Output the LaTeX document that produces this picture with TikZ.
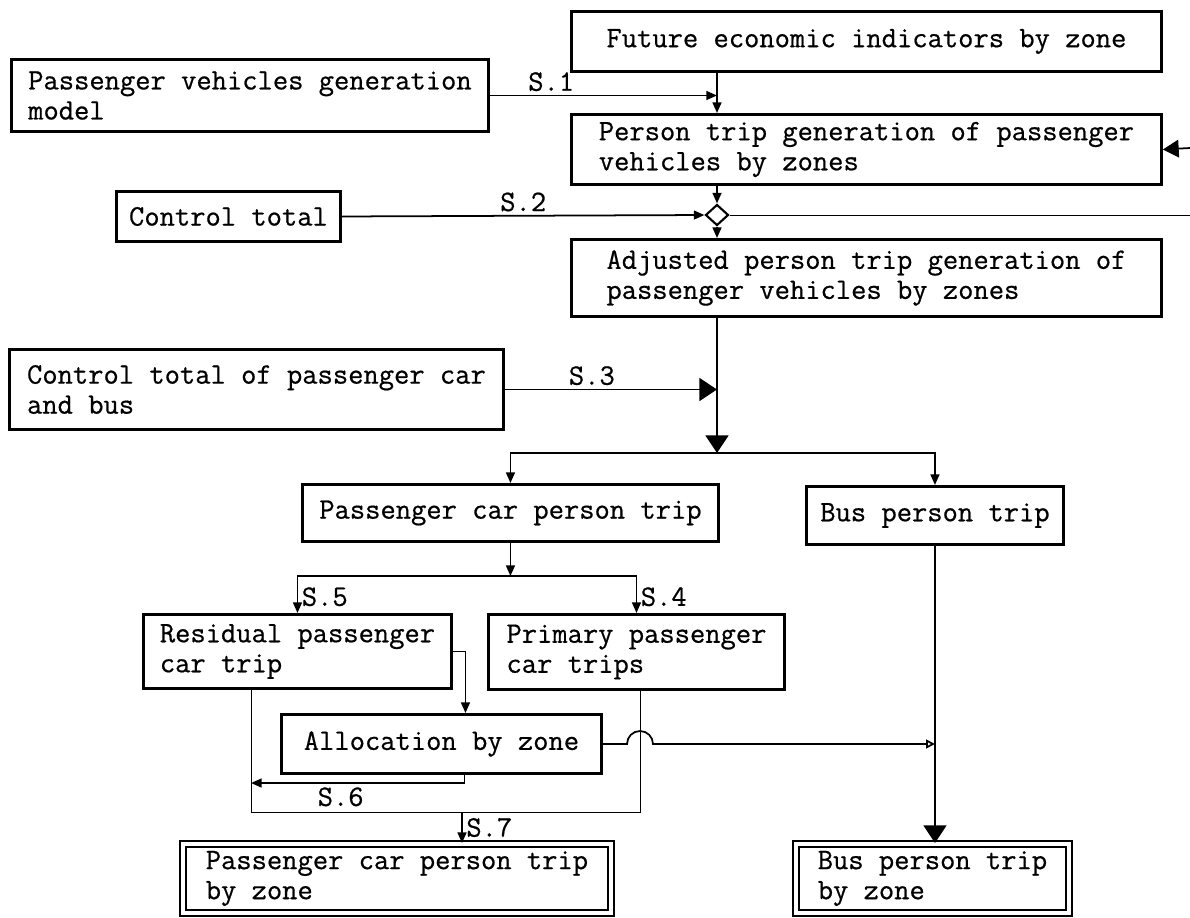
\documentclass[tikz,border=0pt]{standalone}
\usepackage{fontspec}
\newfontfamily\typew[FakeBold=0.6]{Latin Modern Mono}
\usepackage{tikz}
\usetikzlibrary{arrows.meta,shapes.geometric}

\begin{document}
\begin{tikzpicture}[x=0.02cm,y=-0.02cm,
	box/.style={draw, line width=1.7pt, align=left, anchor=north west, inner sep=0pt,
		font=\typew\fontsize{16.9}{17.1}\selectfont},
	dbl/.style={double, double distance=2.2pt, line width=1.1pt},
	lbl/.style={font=\typew\fontsize{16.9}{17.1}\selectfont, inner sep=2pt},
	sarr/.style={-{Triangle[length=6pt,width=5pt]}, line width=1pt},
	marr/.style={-{Triangle[length=9pt,width=10pt]}, line width=1pt},
	barr/.style={-{Triangle[length=10pt,width=13pt]}, line width=1pt},
	oarr/.style={-{Triangle[open,length=5pt,width=5pt]}, line width=1pt}]
	\useasboundingbox (0,0) rectangle (1190,917);
	% blocks
	\node[box, minimum width=11.8cm, minimum height=1.2cm] (fut) at (570,10) {Future economic indicators by zone};
	\node[box, minimum width=9.54cm, minimum height=1.44cm] (pvgm) at (10,58) {Passenger vehicles generation\\model};
	\node[box, minimum width=11.8cm, minimum height=1.4cm] (ptg) at (570,113) {Person trip generation of passenger\\vehicles by zones};
	\node[box, minimum width=4.48cm, minimum height=1cm] (ctl) at (115,190) {Control total};
	\node[draw, diamond, line width=1.2pt, fill=white, minimum width=0.46cm, minimum height=0.42cm, inner sep=0pt] (dia) at (717,215) {};
	\node[box, minimum width=11.8cm, minimum height=1.54cm] (adj) at (570,238) {Adjusted person trip generation of\\passenger vehicles by zones};
	\node[box, minimum width=9.88cm, minimum height=1.6cm] (ctpcb) at (8,348) {Control total of passenger car\\and bus};
	\node[box, minimum width=8.32cm, minimum height=1.14cm] (pcpt) at (301,483) {Passenger car person trip};
	\node[box, minimum width=5.14cm, minimum height=1.16cm] (bpt) at (805,485) {Bus person trip};
	\node[box, minimum width=6.16cm, minimum height=1.48cm] (res) at (142,613) {Residual passenger\\car trip};
	\node[box, minimum width=5.92cm, minimum height=1.5cm] (prim) at (487,613) {Primary passenger\\car trips};
	\node[box, minimum width=6.4cm, minimum height=1.18cm] (alloc) at (280,713) {Allocation by zone};
	\node[box, dbl, minimum width=8.56cm, minimum height=1.38cm] (pcz) at (182,843) {Passenger car person trip\\by zone};
	\node[box, dbl, minimum width=5.46cm, minimum height=1.38cm] (bz) at (795,843) {Bus person trip\\by zone};
	% junction points
	\coordinate (sp) at (717,90);
	\coordinate (rin) at (1190,148);
	\coordinate (rout) at (1190,215);
	\coordinate (jn) at (717,453);
	\coordinate (jn2) at (pcpt.south |- 0,576);
	\coordinate (l6) at (251,783);
	\coordinate (bl) at (251,812);
	\coordinate (br) at (640,812);
	\coordinate (s7) at (462,812);
	% upper part
	\draw[sarr] (fut.south -| sp) -- (ptg.north -| sp);
	\draw[sarr] (pvgm.east) -- node[lbl, above, pos=0.27] {S.1} (pvgm.east -| sp);
	\draw[marr] (rin) -- (ptg.east);
	\draw[sarr] (ptg.south -| dia) -- (dia.north);
	\draw[sarr] (ctl.east) -- node[lbl, above] {S.2} (dia.west);
	\draw (dia.east) -- (rout);
	\draw[sarr] (dia.south) -- (adj.north -| dia);
	\draw[barr] (adj.south -| jn) -- (jn);
	\draw[barr] (ctpcb.east) -- node[lbl, above, pos=0.41] {S.3} (ctpcb.east -| jn);
	\draw[sarr] (jn) -| (pcpt.north);
	\draw[sarr] (jn) -| (bpt.north);
	% passenger car branch
	\draw[sarr] (pcpt.south) -- (jn2);
	\draw[sarr] (jn2) -| node[lbl, right, pos=0.78] {S.5} (res.north);
	\draw[sarr] (jn2) -| node[lbl, right, pos=0.78] {S.4} (prim.north);
	\draw[sarr] (res.east) -| ([xshift=0.48cm]alloc.north);
	\draw[sarr] ([xshift=0.46cm]alloc.south) |- node[lbl, below, pos=0.79] {S.6} (l6);
	\draw (res.south -| bl) -- (bl) -- (br) -- (prim.south -| br);
	\draw[oarr] (alloc.east) -- ([xshift=-0.26cm]alloc.east -| br) arc[start angle=180, end angle=0, radius=0.26cm] -- (alloc.east -| bpt.south);
	\draw[sarr] (s7) -- node[lbl, right] {S.7} (s7 |- pcz.north);
	% bus branch
	\draw[barr] (bpt.south) -- (bpt.south |- bz.north);
\end{tikzpicture}
\end{document}
